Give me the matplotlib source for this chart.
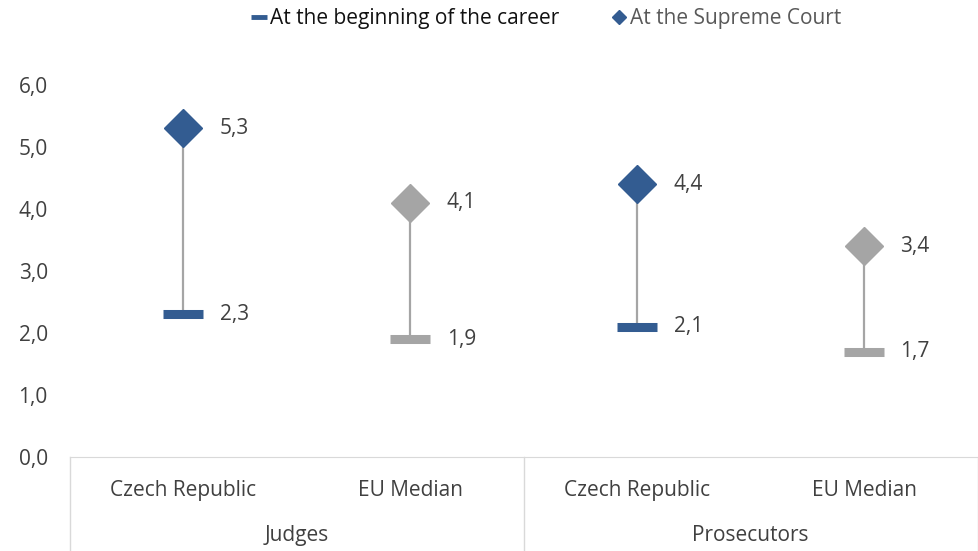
import matplotlib.pyplot as plt
from matplotlib.lines import Line2D

categories = ["Czech Republic", "EU Median", "Czech Republic", "EU Median"]
groups = ["Judges", "Prosecutors"]
beginning = [2.3, 1.9, 2.1, 1.7]
supreme = [5.3, 4.1, 4.4, 3.4]
yticks = [0, 1, 2, 3, 4, 5, 6]

blue = "#335C91"
gray = "#A5A5A5"
colors = [blue, gray, blue, gray]
txt = "#404040"

plt.rcParams['font.family'] = ['Open Sans', 'DejaVu Sans']

fig = plt.figure(figsize=(9.79, 5.51), dpi=100)
ax = fig.add_axes([0.0715, 0.1706, 0.927, 0.6751])

x = list(range(len(categories)))
for i in x:
    ax.plot([i, i], [beginning[i], supreme[i]], color=gray, lw=1.6, zorder=1)
    ax.plot(i, supreme[i], marker='D', ms=19, color=colors[i], mec=colors[i], zorder=3)
    ax.plot(i, beginning[i], marker='_', ms=29, mew=6.5, color=colors[i], zorder=3)
    ax.text(i + 0.16, supreme[i], f"{supreme[i]:.1f}".replace('.', ','),
            va='center', ha='left', fontsize=15, color=txt)
    ax.text(i + 0.16, beginning[i], f"{beginning[i]:.1f}".replace('.', ','),
            va='center', ha='left', fontsize=15, color=txt)

ax.set_xlim(-0.5, 3.5)
ax.set_ylim(0, 6)
ax.set_yticks(yticks)
ax.set_yticklabels([f"{v:.1f}".replace('.', ',') for v in yticks], fontsize=15, color=txt)
ax.tick_params(axis='y', length=0, pad=16)
ax.set_xticks([])
for s in ['top', 'right', 'left']:
    ax.spines[s].set_visible(False)
ax.spines['bottom'].set_color('#D9D9D9')

# category and group labels
trans = ax.get_xaxis_transform()
for i, c in enumerate(categories):
    ax.text(i, -0.09, c, transform=trans, ha='center', va='center', fontsize=15, color=txt)
for g, gx in zip(groups, [0.5, 2.5]):
    ax.text(gx, -0.212, g, transform=trans, ha='center', va='center', fontsize=15, color=txt)
for sx in [-0.5, 1.5, 3.5]:
    ax.plot([sx, sx], [0, -0.26], transform=trans, color='#D9D9D9', lw=1, clip_on=False)

handles = [Line2D([], [], color=blue, marker='_', ms=11, mew=3.5, ls='none'),
           Line2D([], [], color=blue, marker='D', ms=7.5, ls='none')]
leg = fig.legend(handles, ["At the beginning of the career", "At the Supreme Court"],
                 loc='center', bbox_to_anchor=(0.558, 0.966), ncol=2, frameon=False,
                 fontsize=15, handlelength=0.7, handletextpad=0.2, columnspacing=2.5)
leg.get_texts()[0].set_color('#111111')
leg.get_texts()[1].set_color('#595959')

fig.savefig("out.png", dpi=100)
